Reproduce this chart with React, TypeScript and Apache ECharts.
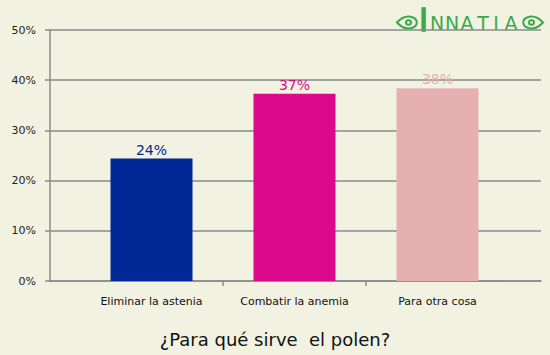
import React, { useEffect, useRef } from "react";
import * as echarts from "echarts";

const categories = ["Eliminar la astenia", "Combatir la anemia", "Para otra cosa"];
const values = [0.244, 0.373, 0.384];
const barColors = ["#002896", "#DC0A8A", "#E6B0B0"];
const yTicks = [0, 0.1, 0.2, 0.3, 0.4, 0.5];
const title = "¿Para qué sirve  el polen?";
const logoLetters = ["N", "N", "A", "T", "I", "A"];
const logoLetterX = [437, 452, 467, 483, 496, 511];

echarts.graphic.registerShape(
  "logoEye",
  echarts.graphic.extendPath(
    "M0 6.5 C5 1 11 -0.5 16 1.5 C21 3.5 21 9.5 16 11.5 C11 13.5 5 12 0 6.5 Z M9 6.5 C9 3.5 14 3.5 14 6.5 C14 9.5 9 9.5 9 6.5 Z",
    {}
  )
);

export default function App() {
  const ref = useRef<HTMLDivElement>(null);
  useEffect(() => {
    if (!ref.current) return;
    const chart = echarts.init(ref.current, null, { renderer: "svg" });
    const gray = "#8a8a8a";
    const green = "#3AAA48";
    chart.setOption({
      animation: false,
      backgroundColor: "#F2F2E2",
      textStyle: { fontFamily: "DejaVu Sans" },
      grid: [
        { left: 50, right: 9, top: 30, bottom: 74 },
        { left: 80, right: 41, top: 30, bottom: 74 },
        { left: 223, right: 184, top: 30, bottom: 74 },
      ],
      xAxis: [
        {
          gridIndex: 0, type: "value", min: 0, max: 1,
          axisLine: { show: true, lineStyle: { color: gray, width: 1.5 } },
          axisTick: { show: false }, axisLabel: { show: false }, splitLine: { show: false },
        },
        {
          gridIndex: 1, type: "category", data: categories,
          axisLine: { show: false }, axisTick: { show: false },
          axisLabel: { color: "#111", fontSize: 11, margin: 15, interval: 0, fontFamily: "DejaVu Sans" },
        },
        {
          gridIndex: 2, type: "value", min: 0, max: 1, interval: 1,
          axisLine: { show: false },
          axisTick: { show: true, length: 5, lineStyle: { color: gray, width: 1.5 } },
          axisLabel: { show: false }, splitLine: { show: false },
        },
      ],
      yAxis: [
        {
          gridIndex: 0, type: "value", min: yTicks[0], max: yTicks[yTicks.length - 1], interval: 0.1,
          axisLine: { show: true, lineStyle: { color: gray, width: 1.5 } },
          axisTick: { show: true, length: 5, lineStyle: { color: gray, width: 1.5 } },
          axisLabel: {
            color: "#222", fontSize: 11, margin: 14, fontFamily: "DejaVu Sans",
            formatter: (v: number) => Math.round(v * 100) + "%",
          },
          splitLine: { show: true, lineStyle: { color: gray, width: 1.5 } },
        },
        { gridIndex: 1, type: "value", min: 0, max: 0.5, show: false },
        { gridIndex: 2, type: "value", min: 0, max: 0.5, show: false },
      ],
      series: [
        {
          type: "bar",
          xAxisIndex: 1,
          yAxisIndex: 1,
          barWidth: 82,
          data: values.map((v, i) => ({
            value: v,
            itemStyle: { color: barColors[i] },
            label: { color: barColors[i] },
          })),
          label: {
            show: true,
            position: "top",
            distance: 2,
            fontSize: 14,
            fontFamily: "DejaVu Sans",
            formatter: (p: any) => Math.round(p.value * 100) + "%",
          },
        },
      ],
      graphic: [
        {
          type: "text",
          x: 275,
          y: 339,
          style: {
            text: title, fontSize: 18, fill: "#111", fontFamily: "DejaVu Sans",
            textAlign: "center", textVerticalAlign: "middle",
          },
        },
        { type: "logoEye", x: 397, y: 16, style: { fill: "none", stroke: green, lineWidth: 2 } },
        { type: "logoEye", x: 543, y: 16, scaleX: -1, style: { fill: "none", stroke: green, lineWidth: 2 } },
        {
          type: "text", x: 423.5, y: 19.5, scaleX: 1.1, scaleY: 1.12,
          style: { text: "I", fontSize: 28, fill: green, stroke: green, lineWidth: 1.2, fontFamily: "DejaVu Sans", textAlign: "center", textVerticalAlign: "middle" },
        },
        ...logoLetters.map((t, i) => ({
          type: "text", x: logoLetterX[i], y: 23,
          style: { text: t, fontSize: 19, fill: green, fontFamily: "DejaVu Sans", textAlign: "center", textVerticalAlign: "middle" },
        })),
      ],
    });
    return () => chart.dispose();
  }, []);
  return <div ref={ref} style={{ position: "fixed", left: 0, top: 0, width: 550, height: 355 }} />;
}
